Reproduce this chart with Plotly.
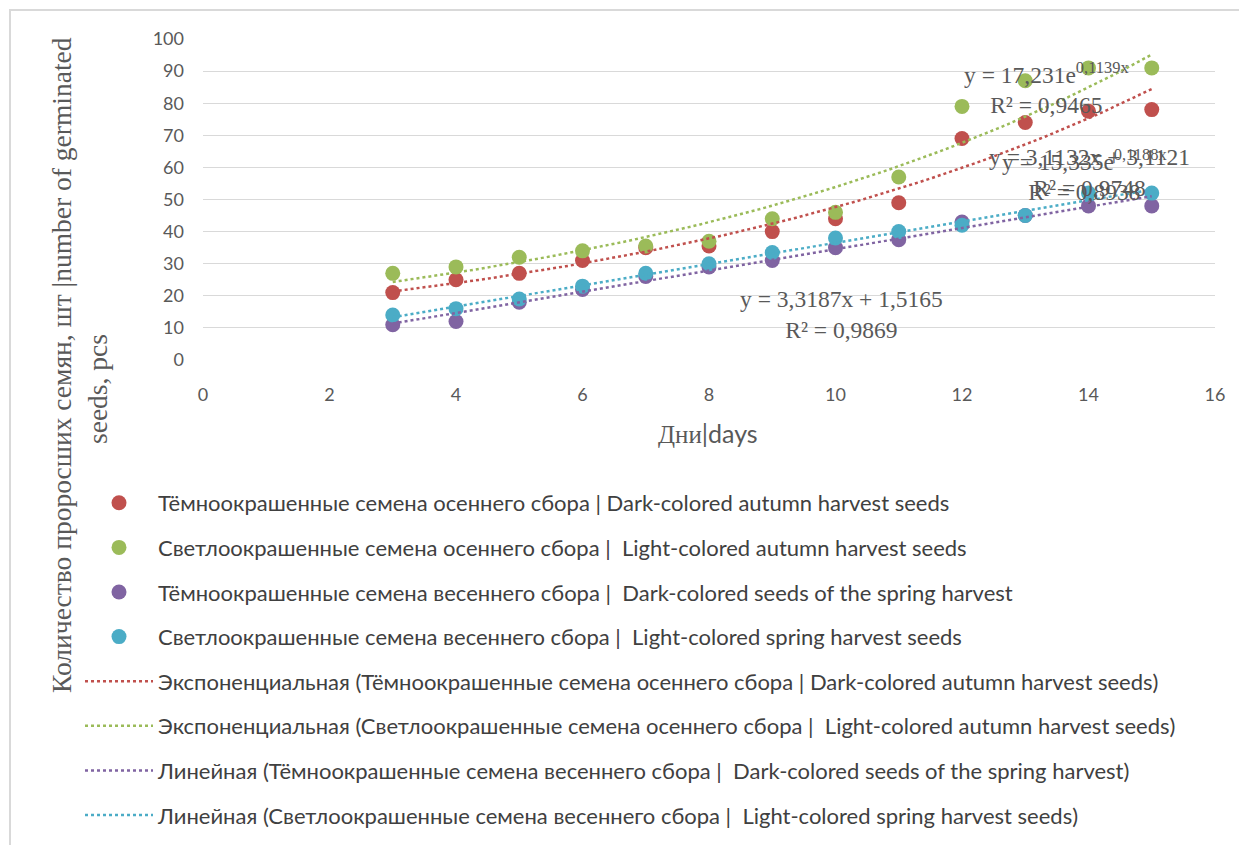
import numpy as np
import plotly.graph_objects as go

days = [3, 4, 5, 6, 7, 8, 9, 10, 11, 12, 13, 14, 15]
dark_autumn = [21, 25, 27, 31, 35, 35.5, 40, 44, 49, 69, 74, 77.5, 78]
light_autumn = [27, 29, 32, 34, 35.5, 37, 44, 46, 57, 79, 87, 91, 91]
dark_spring = [11, 12, 18, 22, 26, 29, 31, 35, 37.5, 43, 45, 48, 48]
light_spring = [14, 16, 19, 23, 27, 30, 33.5, 38, 40, 42, 45, 52, 52]

names = [
    "Тёмноокрашенные семена осеннего сбора | Dark-colored autumn harvest seeds",
    "Светлоокрашенные семена осеннего сбора |  Light-colored autumn harvest seeds",
    "Тёмноокрашенные семена весеннего сбора |  Dark-colored seeds of the spring harvest",
    "Светлоокрашенные семена весеннего сбора |  Light-colored spring harvest seeds",
]
trend_names = [
    "Экспоненциальная (Тёмноокрашенные семена осеннего сбора | Dark-colored autumn harvest seeds)",
    "Экспоненциальная (Светлоокрашенные семена осеннего сбора |  Light-colored autumn harvest seeds)",
    "Линейная (Тёмноокрашенные семена весеннего сбора |  Dark-colored seeds of the spring harvest)",
    "Линейная (Светлоокрашенные семена весеннего сбора |  Light-colored spring harvest seeds)",
]
trend_kinds = ["exp", "exp", "lin", "lin"]
colors = ["#C0504D", "#9BBB59", "#8064A2", "#4BACC6"]
series = [dark_autumn, light_autumn, dark_spring, light_spring]

x_ticks = [0, 2, 4, 6, 8, 10, 12, 14, 16]
y_ticks = [0, 10, 20, 30, 40, 50, 60, 70, 80, 90, 100]

eq_texts = [
    "y = 15,335e<sup>0,1188x</sup><br>R² = 0,8938",
    "y = 17,231e<sup>0,1139x</sup><br>R² = 0,9465",
    "y = 3,3187x + 1,5165<br>R² = 0,9869",
    "y = 3,1132x + 3,1121<br>R² = 0,9748",
]
eq_pos = [(13.94, 57.6), (13.34, 84.6), (10.10, 14.2), (14.02, 58.3)]

LEG_FONT = "Lato"
fig = go.Figure()

for i, (nm, ys, c) in enumerate(zip(names, series, colors)):
    fig.add_trace(go.Scatter(
        x=days, y=ys, mode="markers", name=nm, legendgroup=f"g{i}",
        marker=dict(color=c, size=15, line=dict(width=0)),
    ))

xs = np.array(days, dtype=float)
xfit = np.linspace(min(days), max(days), 80)
for i, (nm, ys, c, k) in enumerate(zip(trend_names, series, colors, trend_kinds)):
    yarr = np.array(ys, dtype=float)
    if k == "exp":
        b, a = np.polyfit(xs, np.log(yarr), 1)
        yfit = np.exp(a) * np.exp(b * xfit)
    else:
        m, q = np.polyfit(xs, yarr, 1)
        yfit = m * xfit + q
    fig.add_trace(go.Scatter(
        x=xfit, y=yfit, mode="lines", name=nm, legendgroup=f"t{i}",
        line=dict(color=c, width=2.5, dash="dot"),
    ))

# target screen positions of the plot area (page body adds an 8px offset)
OFF = 8
L, R, T, B = 203, 1215, 39, 360
def px(xp):
    return (xp - L) / (R - L)
def py(yp):
    return (B - yp) / (B - T)

annotations = []
for txt, (ax, ay) in zip(eq_texts, eq_pos):
    annotations.append(dict(
        x=ax, y=ay, xref="x", yref="y", text=txt, showarrow=False,
        font=dict(family="Liberation Serif", size=23.5, color="#595959"),
        align="center", xanchor="center", yanchor="middle",
    ))

annotations.append(dict(
    x=px(62), y=py(365), xref="paper", yref="paper",
    text="Количество проросших семян, шт |number of germinated",
    textangle=-90, showarrow=False,
    font=dict(family="Liberation Serif", size=27.5, color="#595959"),
    xanchor="center", yanchor="middle",
))
annotations.append(dict(
    x=px(98), y=py(389), xref="paper", yref="paper",
    text="seeds, pcs", textangle=-90, showarrow=False,
    font=dict(family="Liberation Serif", size=27.5, color="#595959"),
    xanchor="center", yanchor="middle",
))
annotations.append(dict(
    x=px(708), y=py(433), xref="paper", yref="paper",
    text="<span style='font-family:Liberation Serif'>Дни</span>|days",
    showarrow=False,
    font=dict(family=LEG_FONT, size=25, color="#595959"),
    xanchor="center", yanchor="middle",
))

shapes = [dict(
    type="rect", xref="paper", yref="paper",
    x0=px(10), x1=px(1260), y0=py(860), y1=py(10),
    line=dict(color="#D9D9D9", width=2), fillcolor="rgba(0,0,0,0)", layer="below",
)]

W, H = 1247, 845
fig.update_layout(
    width=W, height=H,
    margin=dict(l=L - OFF, r=W - (R - OFF), t=T - OFF, b=H - (B - OFF)),
    paper_bgcolor="white", plot_bgcolor="white",
    showlegend=True,
    legend=dict(
        x=px(80), y=py(482), xanchor="left", yanchor="top",
        xref="paper", yref="paper",
        font=dict(family=LEG_FONT, size=22, color="#404040"),
        tracegroupgap=13, itemwidth=68, bgcolor="rgba(0,0,0,0)",
        traceorder="grouped",
    ),
    xaxis=dict(
        range=[0, 16], tickvals=x_ticks, showgrid=False, zeroline=False,
        showline=False, ticks="",
        tickfont=dict(family=LEG_FONT, size=18, color="#595959"),
        ticklabelstandoff=22,
    ),
    yaxis=dict(
        range=[0, 100], tickvals=y_ticks, showgrid=True, gridcolor="#D9D9D9",
        gridwidth=1, zeroline=False, showline=False, ticks="",
        tickfont=dict(family=LEG_FONT, size=18, color="#595959"),
        ticklabelstandoff=18,
    ),
    annotations=annotations,
    shapes=shapes,
)

fig.write_html("out.html")
